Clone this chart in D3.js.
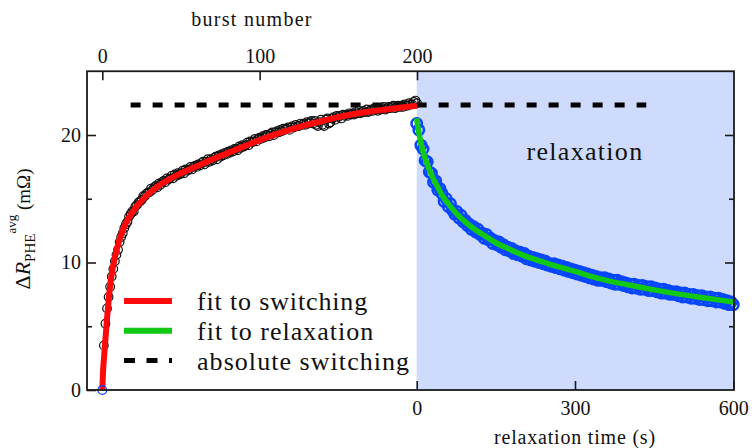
<!DOCTYPE html>
<html>
<head>
<meta charset="utf-8">
<script src="https://cdn.jsdelivr.net/npm/d3@7/dist/d3.min.js"></script>
<style>
  html, body { margin: 0; padding: 0; background: #fff; }
  svg { display: block; }
</style>
</head>
<body>
<svg id="chart" width="752" height="448"></svg>
<script>
// ---- data ----------------------------------------------------------------
// measured ΔR (mΩ) after each burst, bursts 0..200
const switchingValues = [
  0, 3.5, 5.2, 6.4, 7.3, 8.1, 8.9, 9.5, 10.1, 10.6,
  11.0, 11.6, 12.0, 12.3, 12.7, 13.0, 13.2, 13.6, 13.8, 14.0,
  14.0, 14.4, 14.5, 14.7, 14.8, 14.9, 15.2, 15.2, 15.4, 15.5,
  15.5, 15.8, 15.7, 15.9, 16.0, 15.9, 16.2, 16.1, 16.3, 16.4,
  16.3, 16.6, 16.5, 16.6, 16.8, 16.6, 16.9, 16.8, 17.0, 16.9,
  17.0, 17.2, 17.0, 17.3, 17.2, 17.3, 17.5, 17.3, 17.5, 17.6,
  17.5, 17.7, 17.6, 17.8, 17.9, 17.7, 17.9, 18.1, 17.9, 18.1,
  18.0, 18.2, 18.3, 18.1, 18.4, 18.3, 18.5, 18.4, 18.6, 18.5,
  18.7, 18.6, 18.8, 18.7, 18.9, 18.9, 18.8, 19.1, 19.0, 19.2,
  19.1, 19.2, 19.4, 19.2, 19.5, 19.4, 19.5, 19.7, 19.5, 19.7,
  19.8, 19.7, 19.9, 19.8, 20.0, 20.0, 19.9, 20.1, 20.2, 20.0,
  20.2, 20.3, 20.2, 20.4, 20.3, 20.5, 20.4, 20.5, 20.6, 20.4,
  20.6, 20.7, 20.6, 20.8, 20.7, 20.7, 20.9, 20.8, 20.9, 20.8,
  21.0, 20.9, 21.0, 21.1, 20.9, 21.1, 20.8, 20.7, 21.0, 21.2,
  20.8, 20.7, 21.2, 21.3, 20.9, 21.0, 21.3, 21.4, 21.2, 21.5,
  21.4, 21.5, 21.3, 21.6, 21.5, 21.6, 21.5, 21.7, 21.6, 21.7,
  21.6, 21.8, 21.7, 21.9, 21.7, 21.8, 21.9, 21.8, 22.0, 21.8,
  21.9, 22.0, 21.9, 22.1, 22.0, 21.9, 22.1, 22.0, 22.1, 22.2,
  22.0, 22.1, 22.2, 22.1, 22.2, 22.3, 22.1, 22.2, 22.3, 22.2,
  22.3, 22.2, 22.4, 22.3, 22.3, 22.5, 22.4, 22.4, 22.6, 22.7,
  22.5
];

// fitted switching curve: [burst, ΔR]
const switchingFit = [
  [0, 0], [0.5, 1.5], [1, 2.4], [2, 4.0], [3, 5.6], [4, 7.0], [5, 8.2],
  [6, 9.1], [8, 10.4], [10, 11.4], [12, 12.2], [15, 13.1], [20, 14.1],
  [25, 14.85], [30, 15.45], [40, 16.35], [50, 17.0], [60, 17.55], [70, 18.1],
  [80, 18.6], [90, 19.1], [100, 19.6], [110, 20.05], [120, 20.45],
  [130, 20.8], [140, 21.1], [150, 21.4], [160, 21.65], [170, 21.85],
  [180, 22.0], [190, 22.15], [200, 22.3]
];

// relaxation: sample times (s) and measured ΔR (mΩ)
const relaxationTimes = d3.range(0, 601, 4);
const relaxationValues = [
  20.9, 20.4, 19.2, 18.9, 18.0, 17.9, 17.1, 17.0, 16.3, 16.4,
  15.7, 15.8, 15.4, 14.8, 15.0, 14.4, 14.6, 14.1, 13.8, 14.0,
  13.5, 13.7, 13.2, 13.3, 12.9, 13.0, 12.6, 12.8, 12.4, 12.6,
  12.2, 12.3, 11.9, 12.2, 11.8, 11.9, 11.5, 11.7, 11.4, 11.6,
  11.2, 11.4, 11.0, 11.2, 10.9, 11.1, 10.7, 10.9, 10.6, 10.8,
  10.5, 10.7, 10.3, 10.5, 10.2, 10.4, 10.1, 10.3, 10.0, 10.2,
  9.9, 10.1, 9.8, 9.9, 9.7, 9.9, 9.6, 9.8, 9.5, 9.7,
  9.4, 9.6, 9.3, 9.5, 9.2, 9.4, 9.1, 9.3, 9.0, 9.2,
  8.9, 9.1, 8.8, 9.0, 8.7, 8.9, 8.6, 8.8, 8.6, 8.8,
  8.5, 8.7, 8.4, 8.6, 8.3, 8.6, 8.3, 8.5, 8.2, 8.4,
  8.1, 8.3, 8.0, 8.3, 8.0, 8.2, 7.9, 8.2, 7.9, 8.1,
  7.8, 8.1, 7.8, 8.0, 7.7, 7.9, 7.6, 7.9, 7.6, 7.8,
  7.5, 7.7, 7.5, 7.7, 7.4, 7.6, 7.3, 7.6, 7.3, 7.5,
  7.2, 7.5, 7.2, 7.4, 7.1, 7.4, 7.1, 7.3, 7.0, 7.3,
  7.0, 7.2, 6.9, 7.2, 6.9, 7.1, 6.8, 7.0, 6.7, 6.9,
  6.7
];

// fitted relaxation curve: [time (s), ΔR]
const relaxationFit = [
  [0, 21.3], [2, 20.7], [5, 20.0], [10, 19.0], [15, 18.3], [20, 17.7],
  [30, 16.7], [40, 15.9], [50, 15.15], [60, 14.6], [75, 13.85], [100, 12.9],
  [125, 12.2], [150, 11.55], [175, 11.05], [200, 10.6], [250, 9.9],
  [300, 9.3], [350, 8.7], [400, 8.25], [450, 7.85], [500, 7.5],
  [550, 7.2], [600, 6.9]
];

// absolute switching level and the span it is drawn over
const absoluteSwitching = 22.35;
const absoluteFromBurst = 18;
const absoluteToTime = 435;

const burstTicks = [0, 100, 200];
const timeTicks = [0, 300, 600];
const yMajorTicks = [0, 10, 20];
const yMinorTicks = [5, 15];

const legendItems = [
  { label: "fit to switching", kind: "red", spacing: 0.85 },
  { label: "fit to relaxation", kind: "green", spacing: 1.0 },
  { label: "absolute switching", kind: "dash", spacing: 1.05 }
];

// ---- layout ----------------------------------------------------------------
const serif = '"Liberation Serif"';
const frame = { left: 87, right: 734, top: 71.25, bottom: 390 };
const colors = {
  red: "#ff0a0a", green: "#12c812", blue: "#0845ff",
  shade: "#cfdbfc", ink: "#1a1a1a"
};

const svg = d3.select("#chart");

const xBurst = d3.scaleLinear().domain([0, 200]).range([102.3, 417]);
const xTime = d3.scaleLinear().domain([0, 600]).range([416.7, 733.3]);
const y = d3.scaleLinear().domain([0, 25]).range([frame.bottom, frame.top]);

// relaxation background
svg.append("rect")
  .attr("x", xTime(0)).attr("y", frame.top)
  .attr("width", frame.right - xTime(0))
  .attr("height", frame.bottom - frame.top)
  .attr("fill", colors.shade);

// absolute switching level
svg.append("line")
  .attr("x1", xBurst(absoluteFromBurst)).attr("x2", xTime(absoluteToTime))
  .attr("y1", y(absoluteSwitching)).attr("y2", y(absoluteSwitching))
  .attr("stroke", "#000").attr("stroke-width", 5)
  .attr("stroke-dasharray", "10 12");

// switching measurements
svg.append("g").selectAll("circle")
  .data(switchingValues.slice(1))
  .join("circle")
  .attr("cx", (d, i) => xBurst(i + 1))
  .attr("cy", d => y(d))
  .attr("r", 4.3)
  .attr("fill", "none")
  .attr("stroke", "#111")
  .attr("stroke-width", 1.2);

const line = d3.line()
  .x(d => d[0]).y(d => d[1])
  .curve(d3.curveMonotoneX);

// switching fit
svg.append("path")
  .attr("d", line(switchingFit.map(d => [xBurst(d[0]), y(d[1])])))
  .attr("fill", "none")
  .attr("stroke", colors.red)
  .attr("stroke-width", 6);

// relaxation measurements
svg.append("g").selectAll("circle")
  .data(relaxationValues)
  .join("circle")
  .attr("cx", (d, i) => xTime(relaxationTimes[i]))
  .attr("cy", d => y(d))
  .attr("r", 5.2)
  .attr("fill", "none")
  .attr("stroke", colors.blue)
  .attr("stroke-width", 2.6);

// relaxation fit
svg.append("path")
  .attr("d", line(relaxationFit.map(d => [xTime(d[0]), y(d[1])])))
  .attr("fill", "none")
  .attr("stroke", colors.green)
  .attr("stroke-width", 5.5);

// starting point at burst 0
svg.append("circle")
  .attr("cx", xBurst(0)).attr("cy", y(switchingValues[0]))
  .attr("r", 4.4)
  .attr("fill", "none")
  .attr("stroke", colors.blue)
  .attr("stroke-width", 1.3);

// ---- frame and axes ----------------------------------------------------------
svg.append("rect")
  .attr("x", frame.left).attr("y", frame.top)
  .attr("width", frame.right - frame.left)
  .attr("height", frame.bottom - frame.top)
  .attr("fill", "none")
  .attr("stroke", colors.ink)
  .attr("stroke-width", 1.8);

function styleAxis(g) {
  g.attr("font-family", serif).attr("font-size", 20);
  g.select(".domain").remove();
  g.selectAll(".tick line").attr("stroke", colors.ink).attr("stroke-width", 1.6);
  g.selectAll(".tick text")
    .style("font-family", serif)
    .style("font-size", "20px")
    .attr("fill", "#111");
}

svg.append("g")
  .attr("transform", `translate(0,${frame.top})`)
  .call(d3.axisTop(xBurst).tickValues(burstTicks).tickSize(-9).tickPadding(8))
  .call(styleAxis);

svg.append("g")
  .attr("transform", `translate(0,${frame.bottom})`)
  .call(d3.axisBottom(xTime).tickValues(timeTicks).tickSize(-9).tickPadding(11))
  .call(styleAxis);

svg.append("g")
  .attr("transform", `translate(${frame.left},0)`)
  .call(d3.axisLeft(y).tickValues(yMajorTicks).tickSize(-9).tickPadding(6))
  .call(styleAxis);

svg.append("g")
  .attr("transform", `translate(${frame.left},0)`)
  .call(d3.axisLeft(y).tickValues(yMinorTicks).tickSize(-5).tickFormat(""))
  .call(styleAxis);

svg.append("g")
  .attr("transform", `translate(${frame.right},0)`)
  .call(d3.axisRight(y).tickValues(yMajorTicks.filter(v => v > 0)).tickSize(-9).tickFormat(""))
  .call(styleAxis);

svg.append("g")
  .attr("transform", `translate(${frame.right},0)`)
  .call(d3.axisRight(y).tickValues(yMinorTicks).tickSize(-5).tickFormat(""))
  .call(styleAxis);

// ---- titles ------------------------------------------------------------------
function label(x, yPos, size, spacing, str) {
  return svg.append("text")
    .attr("x", x).attr("y", yPos)
    .attr("text-anchor", "middle")
    .attr("fill", "#111")
    .style("font-family", serif)
    .style("font-size", size + "px")
    .style("letter-spacing", spacing + "px")
    .text(str);
}

label(252, 26, 20, 1.3, "burst number");
label(575, 443.5, 20, 0.8, "relaxation time (s)");
label(585, 160, 26, 1.3, "relaxation");

const yLabel = svg.append("text")
  .attr("transform", "translate(30,229) rotate(-90)")
  .attr("text-anchor", "middle")
  .attr("fill", "#111")
  .style("font-family", serif);
yLabel.append("tspan").style("font-size", "22px").text("Δ");
yLabel.append("tspan").style("font-size", "22px").style("font-style", "italic").text("R");
yLabel.append("tspan").style("font-size", "15px").attr("dy", 5).text("PHE");
yLabel.append("tspan").style("font-size", "13px").attr("dy", -19).text("avg");
yLabel.append("tspan").style("font-size", "19px").attr("dy", 14).text(" (mΩ)");

// ---- legend ------------------------------------------------------------------
const legendRows = svg.append("g").selectAll("g")
  .data(legendItems)
  .join("g")
  .attr("transform", (d, i) => `translate(124,${301 + i * 29.8})`);

legendRows.append("line")
  .attr("x1", 0).attr("x2", 48)
  .attr("stroke", d => d.kind === "red" ? colors.red : d.kind === "green" ? colors.green : "#000")
  .attr("stroke-width", d => d.kind === "dash" ? 5 : 6)
  .attr("stroke-dasharray", d => d.kind === "dash" ? "11 11.5" : null);

legendRows.append("text")
  .attr("x", 73).attr("y", 9)
  .attr("fill", "#111")
  .style("font-family", serif)
  .style("font-size", "26px")
  .style("letter-spacing", d => d.spacing + "px")
  .text(d => d.label);
</script>
</body>
</html>
